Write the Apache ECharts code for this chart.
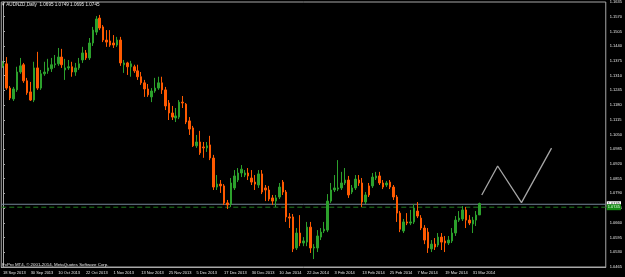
<!DOCTYPE html>
<html>
<head>
<meta charset="utf-8">
<script src="https://cdn.jsdelivr.net/npm/echarts@6/dist/echarts.min.js"></script>
<style>
  html, body { margin: 0; padding: 0; background: #000; }
  #chart { width: 625px; height: 277px; }
</style>
</head>
<body>
<div id="chart"></div>
<script>
// AUDNZD daily candles, [open, close, low, high], 18 Sep 2013 .. 2 Apr 2014
var candles = [
  [1.1353, 1.1362, 1.1344, 1.1375], [1.1362, 1.1255, 1.1247, 1.1392], [1.1255, 1.1211, 1.1202, 1.1264],
  [1.1207, 1.1251, 1.1198, 1.1260], [1.1247, 1.1326, 1.1238, 1.1349], [1.1326, 1.1353, 1.1318, 1.1388],
  [1.1358, 1.1287, 1.1278, 1.1366], [1.1287, 1.1234, 1.1225, 1.1300], [1.1238, 1.1202, 1.1198, 1.1282],
  [1.1202, 1.1344, 1.1193, 1.1371], [1.1344, 1.1255, 1.1247, 1.1415], [1.1255, 1.1318, 1.1247, 1.1335],
  [1.1318, 1.1326, 1.1309, 1.1371], [1.1331, 1.1344, 1.1318, 1.1384], [1.1340, 1.1358, 1.1326, 1.1388],
  [1.1358, 1.1362, 1.1344, 1.1401], [1.1362, 1.1392, 1.1353, 1.1432], [1.1392, 1.1358, 1.1344, 1.1428],
  [1.1335, 1.1344, 1.1291, 1.1384], [1.1344, 1.1349, 1.1335, 1.1379], [1.1349, 1.1326, 1.1305, 1.1371],
  [1.1326, 1.1344, 1.1309, 1.1366], [1.1344, 1.1362, 1.1335, 1.1388], [1.1379, 1.1410, 1.1366, 1.1437],
  [1.1410, 1.1388, 1.1379, 1.1423], [1.1388, 1.1454, 1.1379, 1.1476], [1.1454, 1.1511, 1.1441, 1.1525],
  [1.1502, 1.1560, 1.1489, 1.1573], [1.1564, 1.1520, 1.1511, 1.1578], [1.1525, 1.1467, 1.1458, 1.1533],
  [1.1467, 1.1458, 1.1437, 1.1511], [1.1463, 1.1445, 1.1437, 1.1511], [1.1454, 1.1445, 1.1432, 1.1489],
  [1.1445, 1.1467, 1.1437, 1.1481], [1.1467, 1.1366, 1.1353, 1.1481], [1.1358, 1.1366, 1.1322, 1.1379],
  [1.1366, 1.1349, 1.1313, 1.1371], [1.1349, 1.1362, 1.1305, 1.1375], [1.1349, 1.1331, 1.1322, 1.1358],
  [1.1331, 1.1305, 1.1291, 1.1358], [1.1305, 1.1278, 1.1269, 1.1326], [1.1278, 1.1251, 1.1216, 1.1291],
  [1.1251, 1.1225, 1.1216, 1.1273], [1.1216, 1.1242, 1.1193, 1.1255], [1.1242, 1.1255, 1.1234, 1.1300],
  [1.1255, 1.1278, 1.1247, 1.1305], [1.1278, 1.1247, 1.1229, 1.1305], [1.1247, 1.1176, 1.1158, 1.1260],
  [1.1189, 1.1145, 1.1114, 1.1202], [1.1145, 1.1127, 1.1114, 1.1176], [1.1123, 1.1132, 1.1105, 1.1167],
  [1.1127, 1.1193, 1.1118, 1.1202], [1.1193, 1.1189, 1.1167, 1.1220], [1.1184, 1.1105, 1.1096, 1.1189],
  [1.1110, 1.1074, 1.1048, 1.1127], [1.1079, 1.1000, 1.0995, 1.1088], [1.1000, 1.1017, 1.0991, 1.1048],
  [1.1017, 1.0969, 1.0960, 1.1066], [1.0995, 1.0991, 1.0947, 1.1017], [1.0991, 1.1000, 1.0973, 1.1017],
  [1.1004, 1.0946, 1.0937, 1.1044], [1.0946, 1.0818, 1.0805, 1.0960], [1.0818, 1.0831, 1.0805, 1.0871],
  [1.0831, 1.0823, 1.0792, 1.0849], [1.0823, 1.0748, 1.0739, 1.0831], [1.0748, 1.0739, 1.0721, 1.0761],
  [1.0743, 1.0836, 1.0730, 1.0858], [1.0814, 1.0867, 1.0805, 1.0893], [1.0849, 1.0880, 1.0840, 1.0902],
  [1.0880, 1.0897, 1.0862, 1.0915], [1.0871, 1.0880, 1.0862, 1.0893], [1.0880, 1.0867, 1.0849, 1.0902],
  [1.0858, 1.0840, 1.0827, 1.0893], [1.0840, 1.0831, 1.0805, 1.0871], [1.0827, 1.0876, 1.0814, 1.0893],
  [1.0876, 1.0796, 1.0787, 1.0893], [1.0814, 1.0805, 1.0756, 1.0827], [1.0805, 1.0765, 1.0756, 1.0823],
  [1.0770, 1.0756, 1.0739, 1.0783], [1.0756, 1.0770, 1.0730, 1.0783], [1.0774, 1.0818, 1.0765, 1.0836],
  [1.0840, 1.0796, 1.0783, 1.0849], [1.0796, 1.0686, 1.0664, 1.0805], [1.0686, 1.0681, 1.0637, 1.0703],
  [1.0686, 1.0545, 1.0531, 1.0699], [1.0549, 1.0615, 1.0540, 1.0637], [1.0615, 1.0571, 1.0557, 1.0694],
  [1.0571, 1.0580, 1.0557, 1.0597], [1.0575, 1.0641, 1.0557, 1.0664], [1.0641, 1.0549, 1.0527, 1.0664],
  [1.0549, 1.0553, 1.0500, 1.0566], [1.0549, 1.0602, 1.0531, 1.0628], [1.0597, 1.0619, 1.0584, 1.0637],
  [1.0624, 1.0632, 1.0615, 1.0664], [1.0628, 1.0756, 1.0619, 1.0787], [1.0756, 1.0805, 1.0748, 1.0836],
  [1.0805, 1.0814, 1.0796, 1.0871], [1.0809, 1.0814, 1.0800, 1.0937], [1.0814, 1.0836, 1.0805, 1.0885],
  [1.0836, 1.0849, 1.0827, 1.0902], [1.0849, 1.0783, 1.0770, 1.0867], [1.0796, 1.0814, 1.0787, 1.0827],
  [1.0814, 1.0853, 1.0805, 1.0871], [1.0849, 1.0836, 1.0823, 1.0871], [1.0836, 1.0752, 1.0730, 1.0858],
  [1.0752, 1.0783, 1.0743, 1.0796], [1.0823, 1.0783, 1.0774, 1.0836], [1.0823, 1.0862, 1.0814, 1.0880],
  [1.0858, 1.0867, 1.0849, 1.0885], [1.0867, 1.0836, 1.0827, 1.0885], [1.0836, 1.0818, 1.0809, 1.0849],
  [1.0827, 1.0836, 1.0818, 1.0845], [1.0840, 1.0818, 1.0809, 1.0849], [1.0818, 1.0774, 1.0761, 1.0827],
  [1.0774, 1.0703, 1.0664, 1.0783], [1.0703, 1.0632, 1.0619, 1.0712], [1.0624, 1.0664, 1.0615, 1.0677],
  [1.0664, 1.0659, 1.0650, 1.0703], [1.0659, 1.0664, 1.0650, 1.0717], [1.0664, 1.0725, 1.0655, 1.0743],
  [1.0712, 1.0690, 1.0681, 1.0752], [1.0681, 1.0637, 1.0628, 1.0694], [1.0637, 1.0584, 1.0566, 1.0650],
  [1.0619, 1.0549, 1.0527, 1.0637], [1.0545, 1.0566, 1.0531, 1.0584], [1.0566, 1.0553, 1.0540, 1.0593],
  [1.0562, 1.0597, 1.0553, 1.0615], [1.0597, 1.0575, 1.0540, 1.0615], [1.0580, 1.0571, 1.0531, 1.0602],
  [1.0571, 1.0584, 1.0562, 1.0602], [1.0580, 1.0615, 1.0571, 1.0637], [1.0615, 1.0672, 1.0602, 1.0690],
  [1.0672, 1.0681, 1.0664, 1.0712], [1.0677, 1.0717, 1.0668, 1.0734], [1.0717, 1.0672, 1.0637, 1.0730],
  [1.0672, 1.0659, 1.0650, 1.0694], [1.0655, 1.0672, 1.0615, 1.0686], [1.0672, 1.0694, 1.0646, 1.0712],
  [1.0695, 1.0745, 1.0695, 1.0749]
];

var tickLabels = [
  "18 Sep 2013", "30 Sep 2013", "10 Oct 2013", "22 Oct 2013", "1 Nov 2013", "13 Nov 2013",
  "25 Nov 2013", "5 Dec 2013", "17 Dec 2013", "30 Dec 2013", "10 Jan 2014", "22 Jan 2014",
  "3 Feb 2014", "13 Feb 2014", "25 Feb 2014", "7 Mar 2014", "19 Mar 2014", "31 Mar 2014"
];

var bidPrice = 1.0742;
var levelPrice = 1.0729;

// hand drawn projection (bar index, price)
var zigX = [138.6, 143.2, 150.1, 158.8];
var zigY = [1.0783, 1.0911, 1.0749, 1.0990];

// trading days, 175 slots (chart is shifted to leave room on the right)
var months = ["Jan","Feb","Mar","Apr","May","Jun","Jul","Aug","Sep","Oct","Nov","Dec"];
var holidays = ["2013-12-25", "2014-01-01"];
var categories = [];
var d = new Date(Date.UTC(2013, 8, 18));
while (categories.length < 175) {
  var wd = d.getUTCDay();
  var iso = d.toISOString().slice(0, 10);
  if (wd !== 0 && wd !== 6 && holidays.indexOf(iso) < 0) {
    categories.push(d.getUTCDate() + " " + months[d.getUTCMonth()] + " " + d.getUTCFullYear());
  }
  d.setUTCDate(d.getUTCDate() + 1);
}

var last = candles[candles.length - 1];
var lastText = last[1].toFixed(4);
var titleText = "\u25BE AUDNZD,Daily  " + [last[0], last[3], last[2], last[1]].map(function (v) { return v.toFixed(4); }).join(" ");

var showTick = function (idx) { return idx % 8 === 0 && idx / 8 < tickLabels.length; };
var font = "Liberation Sans";

// horizontal price line across the whole chart, with a price box on the right
function hLine(price, color, type, boxBg, boxColor) {
  return {
    type: "line",
    xAxisIndex: 1,
    data: [[-0.5, price], [174.5, price]],
    symbol: "none",
    silent: true,
    lineStyle: { color: color, width: 1, type: type },
    endLabel: {
      show: true, distance: 1, formatter: lastText, color: boxColor,
      backgroundColor: boxBg, fontSize: 4, fontFamily: font, padding: [1, 1]
    },
    z: 2
  };
}

var chart = echarts.init(document.getElementById("chart"));
var option = {
  backgroundColor: "#000",
  animation: false,
  title: [
    { text: titleText, left: 2, top: 2, padding: 0,
      textStyle: { color: "#e6e6e6", fontSize: 4.6, fontWeight: "normal", fontFamily: font } },
    { text: "FxPro MT4, \u00A9 2001-2014, MetaQuotes Software Corp.", left: 2, top: 262.5, padding: 0,
      textStyle: { color: "#e6e6e6", fontSize: 4.4, fontWeight: "normal", fontFamily: font } }
  ],
  grid: {
    left: 0.5, right: 17.5, top: 2, bottom: 10,
    show: true, borderColor: "#a8a8a8", borderWidth: 1
  },
  xAxis: [
    {
      type: "category",
      data: categories,
      boundaryGap: true,
      axisLine: { lineStyle: { color: "#a8a8a8" } },
      axisTick: { interval: showTick, alignWithLabel: true, length: 2, lineStyle: { color: "#a8a8a8" } },
      axisLabel: {
        interval: showTick,
        align: "left",
        margin: 4,
        color: "#e6e6e6",
        fontSize: 4,
        fontFamily: font,
        formatter: function (val, idx) { return tickLabels[idx / 8]; }
      },
      splitLine: { show: false }
    },
    { type: "value", min: -0.5, max: 174.5, show: false }
  ],
  yAxis: {
    type: "value",
    position: "right",
    min: 1.0465,
    max: 1.1635,
    interval: 0.0065,
    axisLine: { show: true, lineStyle: { color: "#a8a8a8" } },
    axisTick: { show: true, length: 2, lineStyle: { color: "#a8a8a8" } },
    axisLabel: {
      color: "#e6e6e6", fontSize: 4, fontFamily: font, margin: 4,
      showMinLabel: true, showMaxLabel: true,
      formatter: function (v) { return v.toFixed(4); }
    },
    splitLine: { show: false }
  },
  series: [
    hLine(bidPrice, "#778899", "solid", "#ffffff", "#000000"),
    hLine(levelPrice, "#1f7a1f", [5, 3], "#138a13", "#e8ffe8"),
    {
      type: "candlestick",
      data: candles.map(function (c) { return c.slice(); }),
      barWidth: 2,
      itemStyle: {
        color: "#2ca02c", color0: "#ff5a00",
        borderColor: "#2ca02c", borderColor0: "#ff5a00", borderWidth: 1
      },
      z: 3
    },
    {
      type: "line",
      xAxisIndex: 1,
      data: zigX.map(function (x, i) { return [x, zigY[i]]; }),
      symbol: "none",
      silent: true,
      lineStyle: { color: "#a6a6a6", width: 1.3 },
      z: 4
    }
  ]
};
chart.setOption(option);
</script>
</body>
</html>
